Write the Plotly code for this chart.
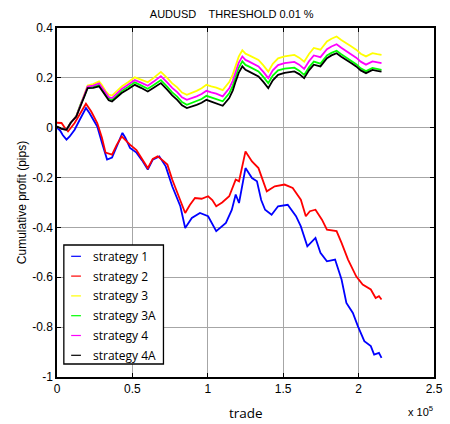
import plotly.graph_objects as go

# x positions in units of 1e5 trades
x_s1 = [0, 0.019, 0.039, 0.063, 0.084, 0.117, 0.149, 0.175, 0.192, 0.214, 0.240, 0.267, 0.298, 0.332,
        0.365, 0.397, 0.434, 0.453, 0.484, 0.527, 0.563, 0.602, 0.635, 0.678, 0.721, 0.764, 0.818, 0.850,
        0.894, 0.948, 1.002, 1.056, 1.120, 1.159, 1.185, 1.207, 1.250, 1.293, 1.326, 1.354, 1.380, 1.423,
        1.466, 1.530, 1.585, 1.617, 1.660, 1.714, 1.747, 1.790, 1.844, 1.887, 1.919, 1.962, 1.995, 2.038,
        2.081, 2.103, 2.135, 2.152]
strategy_1 = [0, -0.01, -0.03, -0.048, -0.035, -0.008, 0.03, 0.06, 0.079, 0.06, 0.03, 0.005, -0.06, -0.128,
              -0.12, -0.075, -0.021, -0.04, -0.081, -0.10, -0.13, -0.168, -0.128, -0.115, -0.155, -0.235,
              -0.315, -0.402, -0.362, -0.342, -0.355, -0.415, -0.382, -0.33, -0.268, -0.302, -0.162, -0.202,
              -0.215, -0.29, -0.329, -0.349, -0.315, -0.309, -0.355, -0.396, -0.476, -0.442, -0.502, -0.536,
              -0.529, -0.609, -0.703, -0.743, -0.796, -0.856, -0.876, -0.910, -0.903, -0.923]

x_s2 = [0, 0.030, 0.052, 0.073, 0.117, 0.149, 0.192, 0.227, 0.267, 0.298, 0.322, 0.365, 0.395, 0.429,
        0.453, 0.484, 0.527, 0.563, 0.602, 0.635, 0.667, 0.699, 0.732, 0.764, 0.818, 0.850, 0.881, 0.915,
        0.959, 1.002, 1.030, 1.056, 1.095, 1.142, 1.185, 1.207, 1.250, 1.293, 1.336, 1.360, 1.391, 1.444,
        1.509, 1.563, 1.617, 1.650, 1.677, 1.714, 1.757, 1.790, 1.854, 1.887, 1.930, 1.984, 2.027, 2.081,
        2.113, 2.135, 2.152]
strategy_2 = [0.02, 0.019, 0.0, -0.015, 0.019, 0.05, 0.096, 0.065, 0.019, -0.04, -0.10, -0.108, -0.07,
              -0.035, -0.05, -0.068, -0.09, -0.125, -0.162, -0.125, -0.115, -0.13, -0.148, -0.208, -0.289,
              -0.342, -0.31, -0.282, -0.285, -0.275, -0.29, -0.315, -0.3, -0.275, -0.208, -0.215, -0.095,
              -0.135, -0.162, -0.2, -0.255, -0.235, -0.228, -0.242, -0.289, -0.355, -0.335, -0.329, -0.369,
              -0.409, -0.415, -0.462, -0.529, -0.596, -0.629, -0.649, -0.683, -0.676, -0.689]

x_top = [0, 0.032, 0.063, 0.091, 0.128, 0.155, 0.181, 0.203, 0.240, 0.279, 0.298, 0.322, 0.343, 0.365,
         0.395, 0.429, 0.473, 0.516, 0.557, 0.602, 0.641, 0.689, 0.732, 0.764, 0.797, 0.829, 0.861, 0.894,
         0.926, 0.959, 0.991, 1.023, 1.056, 1.099, 1.142, 1.166, 1.185, 1.205, 1.229, 1.250, 1.271, 1.302,
         1.336, 1.367, 1.401, 1.431, 1.466, 1.509, 1.574, 1.606, 1.639, 1.671, 1.703, 1.747, 1.790, 1.820,
         1.854, 1.885, 1.919, 1.950, 1.984, 2.014, 2.049, 2.092, 2.124, 2.152]
strategy_3 = [0.005, -0.005, -0.008, 0.02, 0.047, 0.095, 0.133, 0.169, 0.175, 0.186, 0.171, 0.147, 0.133,
              0.129, 0.145, 0.165, 0.183, 0.202, 0.193, 0.182, 0.2, 0.224, 0.199, 0.178, 0.162, 0.141, 0.132,
              0.139, 0.148, 0.158, 0.172, 0.166, 0.161, 0.151, 0.183, 0.214, 0.251, 0.285, 0.311, 0.297,
              0.291, 0.281, 0.272, 0.251, 0.225, 0.256, 0.278, 0.286, 0.292, 0.281, 0.265, 0.296, 0.32,
              0.313, 0.346, 0.357, 0.366, 0.352, 0.34, 0.327, 0.313, 0.297, 0.286, 0.299, 0.295, 0.292]
strategy_3A = [0.005, -0.005, -0.008, 0.02, 0.046, 0.092, 0.127, 0.162, 0.165, 0.172, 0.156, 0.132, 0.117,
               0.112, 0.128, 0.147, 0.164, 0.182, 0.17, 0.156, 0.171, 0.191, 0.164, 0.142, 0.125, 0.103,
               0.092, 0.099, 0.106, 0.115, 0.128, 0.122, 0.116, 0.106, 0.138, 0.169, 0.206, 0.24, 0.266,
               0.252, 0.246, 0.235, 0.226, 0.205, 0.179, 0.209, 0.23, 0.237, 0.241, 0.229, 0.212, 0.242,
               0.265, 0.257, 0.29, 0.3, 0.309, 0.295, 0.282, 0.269, 0.255, 0.238, 0.227, 0.24, 0.235, 0.232]
strategy_4 = [0.005, -0.005, -0.008, 0.02, 0.046, 0.093, 0.13, 0.165, 0.169, 0.178, 0.162, 0.138, 0.123,
              0.119, 0.135, 0.155, 0.173, 0.191, 0.181, 0.168, 0.185, 0.207, 0.181, 0.16, 0.143, 0.122,
              0.112, 0.118, 0.126, 0.135, 0.148, 0.142, 0.137, 0.126, 0.158, 0.189, 0.226, 0.26, 0.286,
              0.272, 0.266, 0.255, 0.246, 0.225, 0.199, 0.23, 0.251, 0.259, 0.264, 0.253, 0.236, 0.267,
              0.29, 0.283, 0.315, 0.326, 0.335, 0.321, 0.308, 0.295, 0.281, 0.265, 0.253, 0.266, 0.262, 0.259]
strategy_4A = [0.005, -0.005, -0.008, 0.02, 0.045, 0.09, 0.125, 0.159, 0.16, 0.166, 0.15, 0.125, 0.11,
               0.105, 0.12, 0.139, 0.155, 0.172, 0.16, 0.145, 0.16, 0.179, 0.152, 0.13, 0.112, 0.09, 0.079,
               0.085, 0.092, 0.1, 0.112, 0.105, 0.099, 0.088, 0.119, 0.15, 0.186, 0.22, 0.246, 0.232, 0.226,
               0.215, 0.206, 0.185, 0.159, 0.19, 0.212, 0.22, 0.226, 0.215, 0.199, 0.23, 0.253, 0.246, 0.279,
               0.29, 0.299, 0.285, 0.273, 0.26, 0.246, 0.23, 0.219, 0.232, 0.228, 0.225]

x_ticks = [0, 0.5, 1, 1.5, 2, 2.5]
x_tick_labels = ["0", "0.5", "1", "1.5", "2", "2.5"]
y_ticks = [0.4, 0.2, 0, -0.2, -0.4, -0.6, -0.8, -1]
y_tick_labels = ["0.4", "0.2", "0", "-0.2", "-0.4", "-0.6", "-0.8", "-1"]

series_names = ["strategy 1", "strategy 2", "strategy 3", "strategy 3A", "strategy 4", "strategy 4A"]
series_x = [x_s1, x_s2, x_top, x_top, x_top, x_top]
series_y = [strategy_1, strategy_2, strategy_3, strategy_3A, strategy_4, strategy_4A]
series_colors = ["#0000ff", "#ff0000", "#ffff00", "#00ff00", "#ff00ff", "#000000"]

fig = go.Figure()
for name, xs, ys, col in zip(series_names, series_x, series_y, series_colors):
    fig.add_trace(go.Scatter(x=xs, y=ys, mode="lines", name=name, showlegend=False,
                             line=dict(color=col, width=1.8)))

axis_common = dict(showline=True, linecolor="black", linewidth=1.5, mirror="ticks",
                   ticks="inside", ticklen=4, tickcolor="black", showgrid=True,
                   gridcolor="#a6a6a6", gridwidth=1, zeroline=False,
                   tickfont=dict(family="Liberation Sans, Arial", size=12, color="black"))

fig.update_xaxes(range=[0, 2.5], tickvals=x_ticks, ticktext=x_tick_labels, **axis_common)
fig.update_yaxes(range=[-1, 0.4], tickvals=y_ticks, ticktext=y_tick_labels,
                 title=dict(text="Cumulative profit (pips)", standoff=3,
                            font=dict(family="Liberation Sans, Arial", size=12, color="black")),
                 **axis_common)

# Manual legend (MATLAB style: short line samples) in paper coordinates
W, H, ML, MB = 450, 424, 57, 47
PW, PH = W - ML - 7, H - 28 - MB
def px(xp):
    return (xp - ML) / PW
def py(yp):
    return (H - MB - yp) / PH

shapes = [dict(type="rect", xref="paper", yref="paper", x0=px(64), x1=px(166), y0=py(364), y1=py(245),
               line=dict(color="black", width=1.3), fillcolor="white", layer="above")]
annotations = []
row_y = [256.3, 276.1, 295.9, 315.7, 335.5, 355.3]
for name, col, ry in zip(series_names, series_colors, row_y):
    shapes.append(dict(type="line", xref="paper", yref="paper", x0=px(71.5), x1=px(81.5),
                       y0=py(ry), y1=py(ry), line=dict(color=col, width=1.2), layer="above"))
    annotations.append(dict(text=name, x=px(91.5), y=py(ry), xref="paper", yref="paper",
                            xanchor="left", yanchor="middle", showarrow=False,
                            font=dict(family="Open Sans, Liberation Sans", size=12, color="black")))

annotations += [
    dict(text="trade", x=0.5, y=py(413), xref="paper", yref="paper", showarrow=False,
         xanchor="center", yanchor="middle",
         font=dict(family="Open Sans, Liberation Sans", size=13.5, color="black")),
    dict(text="x 10<sup>5</sup>", x=px(444), y=py(411), xref="paper", yref="paper", showarrow=False,
         xanchor="right", yanchor="middle",
         font=dict(family="Liberation Sans, Arial", size=11, color="black")),
]

fig.update_layout(
    width=W, height=H,
    margin=dict(l=ML, r=7, t=28, b=MB),
    paper_bgcolor="white", plot_bgcolor="white",
    title=dict(text="AUDUSD\u00a0\u00a0\u00a0\u00a0THRESHOLD 0.01 %", x=0.515, xanchor="center",
               y=0.966, yanchor="middle",
               font=dict(family="Liberation Sans, Arial", size=11, color="black")),
    showlegend=False,
    shapes=shapes,
    annotations=annotations,
)

fig.write_html("out.html")
